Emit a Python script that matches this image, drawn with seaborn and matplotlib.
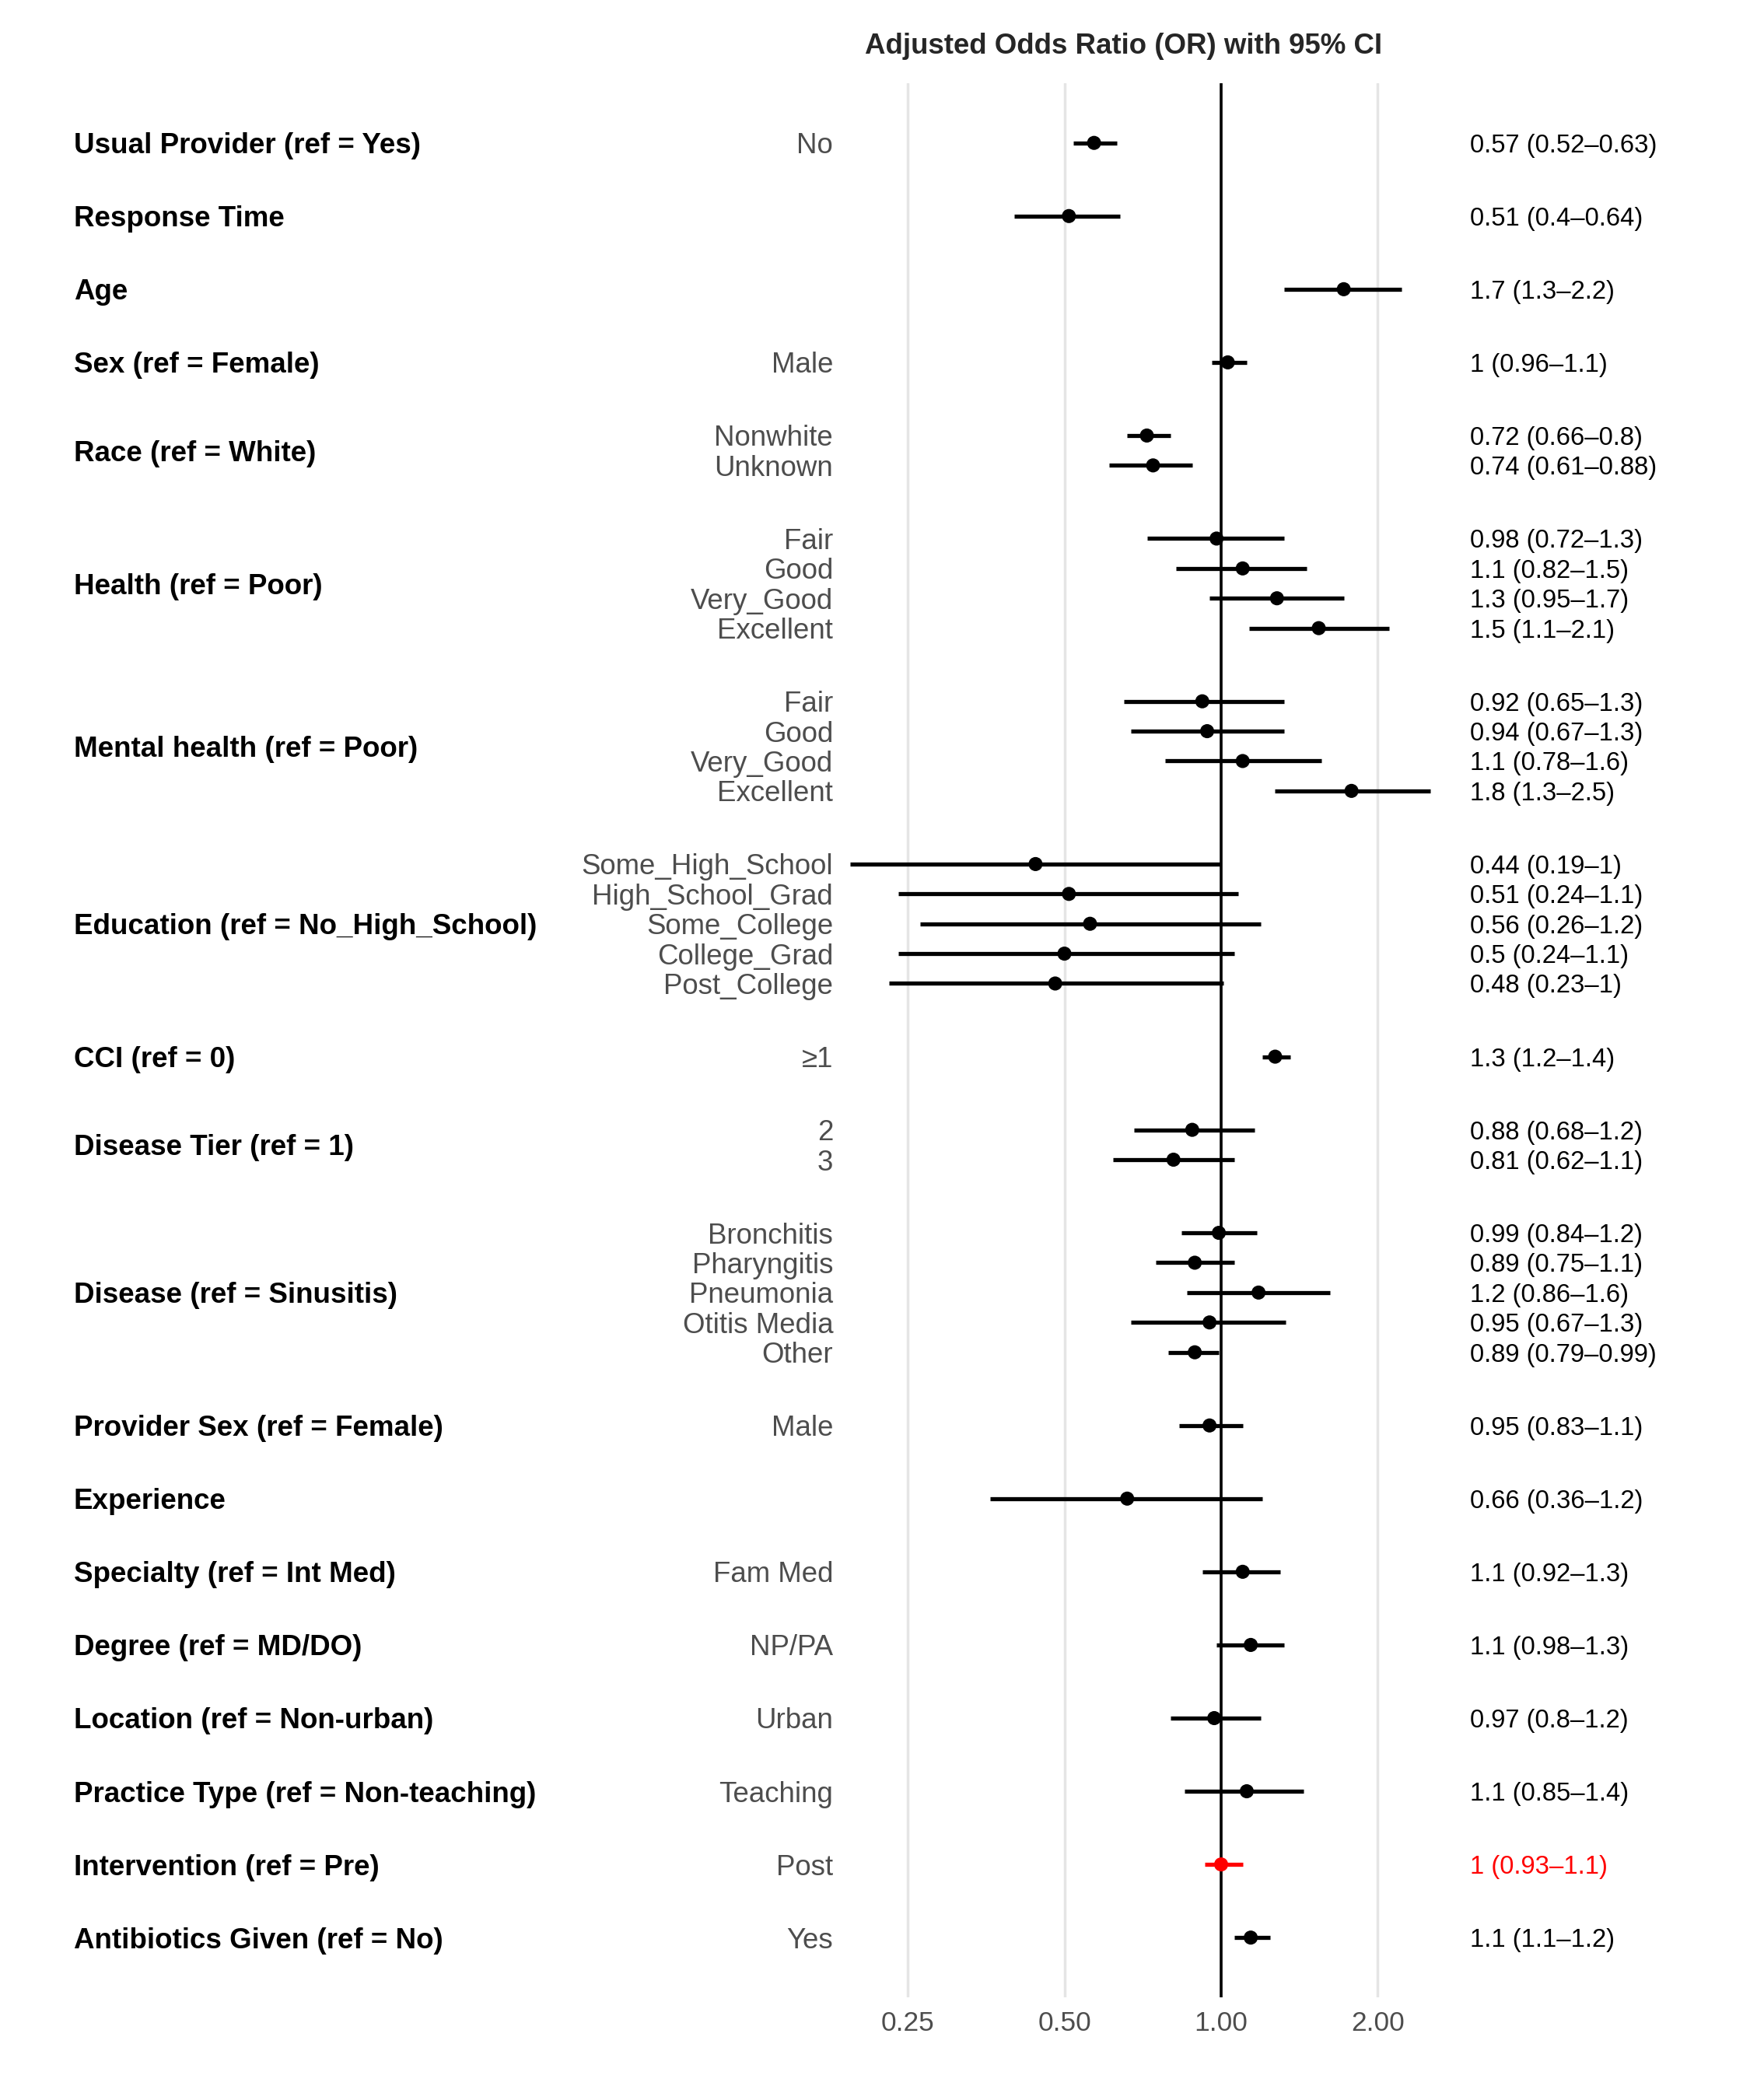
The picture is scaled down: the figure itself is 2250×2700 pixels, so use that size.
import numpy as np
import pandas as pd
import matplotlib
matplotlib.use("Agg")
import matplotlib.pyplot as plt
import matplotlib.transforms as mtransforms
import seaborn as sns

# Data: groups, their levels, and OR with 95% CI
groups = [
    "Usual Provider (ref = Yes)", "Response Time", "Age", "Sex (ref = Female)",
    "Race (ref = White)", "Health (ref = Poor)", "Mental health (ref = Poor)",
    "Education (ref = No_High_School)", "CCI (ref = 0)", "Disease Tier (ref = 1)",
    "Disease (ref = Sinusitis)", "Provider Sex (ref = Female)", "Experience",
    "Specialty (ref = Int Med)", "Degree (ref = MD/DO)", "Location (ref = Non-urban)",
    "Practice Type (ref = Non-teaching)", "Intervention (ref = Pre)",
    "Antibiotics Given (ref = No)",
]
levels = [
    ["No"], [""], [""], ["Male"],
    ["Nonwhite", "Unknown"],
    ["Fair", "Good", "Very_Good", "Excellent"],
    ["Fair", "Good", "Very_Good", "Excellent"],
    ["Some_High_School", "High_School_Grad", "Some_College", "College_Grad", "Post_College"],
    ["\u22651"], ["2", "3"],
    ["Bronchitis", "Pharyngitis", "Pneumonia", "Otitis Media", "Other"],
    ["Male"], [""], ["Fam Med"], ["NP/PA"], ["Urban"], ["Teaching"], ["Post"], ["Yes"],
]
odds = [0.57, 0.51, 1.72, 1.03, 0.72, 0.74,
        0.98, 1.10, 1.28, 1.54,
        0.92, 0.94, 1.10, 1.78,
        0.44, 0.51, 0.56, 0.50, 0.48,
        1.27, 0.88, 0.81,
        0.99, 0.89, 1.18, 0.95, 0.89,
        0.95, 0.66, 1.10, 1.14, 0.97, 1.12, 1.00, 1.14]
ci_low = [0.52, 0.40, 1.32, 0.96, 0.66, 0.61,
          0.72, 0.82, 0.95, 1.13,
          0.65, 0.67, 0.78, 1.27,
          0.194, 0.24, 0.264, 0.24, 0.23,
          1.20, 0.68, 0.62,
          0.84, 0.75, 0.86, 0.67, 0.79,
          0.83, 0.36, 0.92, 0.98, 0.80, 0.85, 0.93, 1.06]
ci_high = [0.63, 0.64, 2.22, 1.12, 0.80, 0.88,
           1.32, 1.46, 1.72, 2.10,
           1.32, 1.32, 1.56, 2.52,
           1.00, 1.08, 1.19, 1.06, 1.01,
           1.36, 1.16, 1.06,
           1.17, 1.06, 1.62, 1.33, 0.99,
           1.10, 1.20, 1.30, 1.32, 1.19, 1.44, 1.10, 1.24]
highlight_group = "Intervention (ref = Pre)"
x_ticks = [0.25, 0.50, 1.00, 2.00]

GAP = 2.45  # spacing between groups, in row units

# Build the long table with row positions
rows = []
pos = 0.0
k = 0
for g, levs in zip(groups, levels):
    for lev in levs:
        rows.append({"group": g, "level": lev, "ypos": pos,
                     "odds": odds[k], "lo": ci_low[k], "hi": ci_high[k]})
        pos += 1
        k += 1
    pos += GAP - 1
df = pd.DataFrame(rows)
df["color"] = np.where(df["group"] == highlight_group, "red", "black")
df["label"] = [f"{o:.2g} ({l:.2g}\u2013{h:.2g})" for o, l, h in zip(df.odds, df.lo, df.hi)]

sns.set_theme(style="whitegrid")
plt.rcParams["font.family"] = ["Liberation Sans", "DejaVu Sans"]

fig = plt.figure(figsize=(22.5, 27), dpi=100)
ax = fig.add_axes([0.4798, 0.0489, 0.8261 - 0.4798, 0.9115])

ax.axvline(1, color="black", lw=2.6, zorder=2)
ax.hlines(df["ypos"], df["lo"], df["hi"], colors=df["color"], lw=3.8, zorder=3)
sns.scatterplot(data=df, x="odds", y="ypos", hue="color",
                palette={"black": "black", "red": "red"},
                s=170, edgecolor="none", legend=False, ax=ax, zorder=4)

ax.set_xscale("log", base=2)
ax.set_xlim(0.185, 2.7)
ax.set_ylim(df["ypos"].max() + 2.0, -2.0)
ax.set_xticks(x_ticks)
ax.set_xticklabels([f"{t:.2f}" for t in x_ticks])
ax.xaxis.set_minor_locator(matplotlib.ticker.NullLocator())
ax.set_yticks(df["ypos"])
ax.set_yticklabels(df["level"])
ax.tick_params(axis="y", length=0, pad=6, labelsize=26.4, labelcolor="#4D4D4D")
ax.tick_params(axis="x", length=0, pad=12, labelsize=25.5, labelcolor="#4D4D4D")
ax.grid(axis="y", visible=False)
ax.grid(axis="x", color="#E5E5E5", lw=2.5)
ax.set_xlabel("")
ax.set_ylabel("")
for sp in ax.spines.values():
    sp.set_visible(False)

# group labels on the left, estimates on the right
trans = mtransforms.blended_transform_factory(fig.transFigure, ax.transData)
for g, sub in df.groupby("group", sort=False):
    ax.text(0.0421, sub["ypos"].mean(), g, transform=trans, ha="left",
            va="center_baseline", fontsize=26.5, fontweight="bold", color="black")
for _, r in df.iterrows():
    ax.text(0.840, r["ypos"], r["label"], transform=trans, ha="left",
            va="center_baseline", fontsize=23.6, color=r["color"])

fig.text(0.642, 0.978, "Adjusted Odds Ratio (OR) with 95% CI", ha="center", va="center",
         fontsize=26.4, fontweight="bold")

fig.savefig("out.png", dpi=100, facecolor="white")
